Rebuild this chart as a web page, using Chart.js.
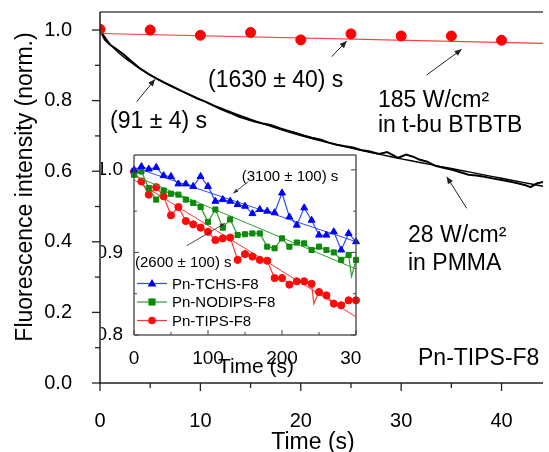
<!DOCTYPE html>
<html><head><meta charset="utf-8">
<script src="https://cdn.jsdelivr.net/npm/chart.js@4"></script>
<style>
html,body{margin:0;padding:0;background:#fff;}
#main{display:block;}
</style></head><body>
<canvas id="main" width="549" height="452"></canvas>
<script>
// ---------- main plot data ----------
const btbtbTime = [0, 5, 10, 15, 20, 25, 30, 35, 40];
const btbtbVals = [1.002, 1.000, 0.985, 0.993, 0.972, 0.989, 0.983, 0.983, 0.971];
const btbtbFitTime = [0, 44.2];
const btbtbFitVals = [0.990, 0.962];

const pmmaTime = [0,0.5,1.0,1.6,2.3,3.1,3.9,4.8,5.6,6.4,7.2,8.0,8.9,9.7,10.5,11.3,12.1,13.0,13.8,14.6,15.4,16.2,17.0,17.9,18.7,19.5,20.3,21.1,22.0,22.8,23.6,24.4,25.2,26.0,26.9,27.8,28.6,29.7,30.5,31.3,31.8,32.6,33.4,34.3,35.1,35.9,36.7,37.5,38.3,39.2,40.0,40.8,41.6,42.4,42.9,43.5,44.2];
const pmmaVals = [1.000,0.972,0.958,0.947,0.932,0.912,0.893,0.876,0.863,0.851,0.840,0.829,0.817,0.806,0.797,0.786,0.775,0.765,0.755,0.748,0.741,0.735,0.731,0.722,0.715,0.708,0.701,0.695,0.689,0.681,0.675,0.671,0.667,0.660,0.656,0.649,0.654,0.638,0.647,0.640,0.633,0.627,0.615,0.609,0.604,0.597,0.590,0.588,0.584,0.579,0.575,0.571,0.566,0.560,0.555,0.565,0.570];
const pmmaFitTime = [0,1,2,3,4,6,8,10,12,14,16,18,20,22,24,26,28,30,32,34,36,38,40,42,44.2];
const pmmaFitVals = [1.0,0.960,0.932,0.910,0.890,0.857,0.828,0.803,0.779,0.757,0.737,0.718,0.701,0.686,0.672,0.659,0.647,0.635,0.624,0.613,0.602,0.591,0.580,0.569,0.557];

const mainXTicks = [0, 10, 20, 30, 40];
const mainYTicks = [0.0, 0.2, 0.4, 0.6, 0.8, 1.0];

// ---------- inset data ----------
const tchsTime = [0,10,20,30,40,50,60,70,80,90,100,110,120,130,140,150,160,170,180,190,200,210,220,230,240,250,260,270,280,290,300];
const tchsVals = [1.000,1.004,1.001,1.003,0.993,0.992,0.983,0.983,0.980,0.992,0.980,0.962,0.964,0.962,0.958,0.956,0.947,0.952,0.950,0.948,0.972,0.943,0.933,0.954,0.939,0.921,0.921,0.925,0.903,0.923,0.913];
const nodipsTime = [0,10,20,30,40,50,60,70,80,90,100,110,120,130,140,150,160,170,180,190,200,210,220,230,240,250,260,270,280,290,294,300];
const nodipsVals = [0.994,0.998,0.978,0.964,0.975,0.971,0.970,0.964,0.960,0.955,0.937,0.952,0.930,0.940,0.921,0.922,0.923,0.923,0.907,0.905,0.917,0.907,0.912,0.911,0.903,0.907,0.903,0.900,0.891,0.897,0.871,0.891];
const tipsTime = [0,10,20,30,40,50,60,70,80,90,100,110,120,130,140,150,160,170,180,190,200,210,220,230,240,243,250,260,270,280,290,300];
const tipsVals = [0.998,0.986,0.970,0.979,0.968,0.945,0.955,0.938,0.934,0.930,0.925,0.915,0.917,0.918,0.891,0.898,0.895,0.891,0.890,0.869,0.869,0.861,0.865,0.865,0.862,0.838,0.852,0.848,0.838,0.836,0.842,0.842];
const fitTime = [0, 300];
const tchsFit = [1.003, 0.913];
const nodipsFit = [0.993, 0.880];
const tipsFit = [0.988, 0.822];

const insetXTicks = [0, 100, 200, 300];
const insetYTicks = [0.8, 0.9, 1.0];
const seriesNames = ['Pn-TCHS-F8', 'Pn-NODIPS-F8', 'Pn-TIPS-F8'];

const FONT = '"Liberation Sans", Arial, Helvetica, sans-serif';
const pts = (t, v) => t.map((x, i) => ({x, y: v[i]}));
const INSET_X = 101, INSET_Y = 150;

function seg(ctx, x1, y1, x2, y2) {
  ctx.beginPath(); ctx.moveTo(x1, y1); ctx.lineTo(x2, y2); ctx.stroke();
}
// axis-aligned line drawn as a filled rectangle
function hbar(ctx, x1, x2, y, w) { ctx.fillRect(Math.min(x1, x2), y - w / 2, Math.abs(x2 - x1), w); }
function vbar(ctx, x, y1, y2, w) { ctx.fillRect(x - w / 2, Math.min(y1, y2), w, Math.abs(y2 - y1)); }
function arrow(ctx, x1, y1, x2, y2, len, w) {
  seg(ctx, x1, y1, x2, y2);
  const a = Math.atan2(y2 - y1, x2 - x1);
  ctx.beginPath();
  ctx.moveTo(x2, y2);
  ctx.lineTo(x2 - len * Math.cos(a) + w * Math.sin(a), y2 - len * Math.sin(a) - w * Math.cos(a));
  ctx.lineTo(x2 - len * Math.cos(a) - w * Math.sin(a), y2 - len * Math.sin(a) + w * Math.cos(a));
  ctx.closePath(); ctx.fill();
}
function zeroPad(s) { s.paddingTop = 0; s.paddingBottom = 0; s.paddingLeft = 0; s.paddingRight = 0; }
function bounds(chart) {
  const x = chart.scales.x, y = chart.scales.y;
  return {x, y, left: x.getPixelForValue(x.min), right: x.getPixelForValue(x.max),
          top: y.getPixelForValue(y.max), bottom: y.getPixelForValue(y.min)};
}

// ---------- inset chart (own canvas, composited into the main canvas) ----------
const insetColors = [
  {mk: '#0000ff', ln: '#2f4dff', style: 'triangle', r: 4},
  {mk: '#0b8a0b', ln: '#2e9e2e', style: 'rect', r: 3.6},
  {mk: '#ff0a0a', ln: '#ff3535', style: 'circle', r: 3.6}
];
const markerRadius = (r) => (c) => {
  const p = c.raw; return (p && Number.isInteger(p.x / 10)) ? r : 0;
};

const insetDeco = {
  id: 'insetDeco',
  afterDraw(chart) {
    const ctx = chart.ctx;
    const b = bounds(chart);
    const ox = INSET_X, oy = INSET_Y;
    ctx.save();
    ctx.fillStyle = '#444';
    hbar(ctx, b.left, b.right, b.top, 1.3);
    hbar(ctx, b.left, b.right, b.bottom, 1.3);
    vbar(ctx, b.left, b.top, b.bottom, 1.3);
    vbar(ctx, b.right, b.top, b.bottom, 1.3);
    for (let i = 0; i * 50 <= 300; i++) {
      const px = b.x.getPixelForValue(i * 50);
      vbar(ctx, px, b.bottom, b.bottom - (i % 2 === 0 ? 5 : 3), 1);
    }
    for (let i = 0; i <= 4; i++) {
      const py = b.y.getPixelForValue(0.8 + i * 0.05);
      const len = i % 2 === 0 ? 5 : 3;
      hbar(ctx, b.left, b.left + len, py, 1);
      hbar(ctx, b.right - len, b.right, py, 1);
    }
    ctx.fillStyle = '#000';
    ctx.font = '21px ' + FONT; ctx.textAlign = 'center'; ctx.textBaseline = 'alphabetic';
    ctx.fillText('Time (s)', 256 - ox, 373 - oy);
    ctx.font = '15px ' + FONT; ctx.textAlign = 'left';
    ctx.fillText('(3100 \u00B1 100) s', 241.7 - ox, 181 - oy);
    ctx.fillText('(2600 \u00B1 100) s', 135 - ox, 267 - oy);
    ctx.strokeStyle = '#333'; ctx.fillStyle = '#333'; ctx.lineWidth = 0.9;
    arrow(ctx, 248.3 - ox, 181.7 - oy, 233.3 - ox, 193.3 - oy, 5, 2);
    arrow(ctx, 186.7 - ox, 245.7 - oy, 225 - ox, 223.3 - oy, 5, 2);
    const rows = [283.5, 302, 320.5];
    rows.forEach((ry, i) => {
      const c = insetColors[i];
      const yy = ry - oy;
      ctx.strokeStyle = c.ln; ctx.lineWidth = 1.2;
      seg(ctx, 137 - ox, yy, 167 - ox, yy);
      ctx.fillStyle = c.mk;
      const mx = 152 - ox;
      if (c.style === 'triangle') {
        ctx.beginPath(); ctx.moveTo(mx, yy - 4.5); ctx.lineTo(mx + 4.5, yy + 3); ctx.lineTo(mx - 4.5, yy + 3); ctx.closePath(); ctx.fill();
      } else if (c.style === 'rect') {
        ctx.fillRect(mx - 3.6, yy - 3.6, 7.2, 7.2);
      } else {
        ctx.beginPath(); ctx.arc(mx, yy, 3.8, 0, Math.PI * 2); ctx.fill();
      }
      ctx.fillStyle = '#000'; ctx.font = '15px ' + FONT; ctx.textBaseline = 'middle';
      ctx.fillText(seriesNames[i], 172 - ox, yy + 1);
    });
    ctx.restore();
  }
};

const insetSeries = [[tchsTime, tchsVals, tchsFit], [nodipsTime, nodipsVals, nodipsFit], [tipsTime, tipsVals, tipsFit]];
const insetDatasets = [];
insetSeries.forEach((s, i) => {
  const c = insetColors[i];
  insetDatasets.push({label: seriesNames[i], data: pts(s[0], s[1]), showLine: true, borderColor: c.ln, borderWidth: 1.2,
    pointStyle: c.style, pointRadius: markerRadius(c.r), pointBackgroundColor: c.mk, pointBorderColor: c.mk,
    pointBorderWidth: 1, clip: false});
  insetDatasets.push({label: seriesNames[i] + ' fit', data: pts(fitTime, s[2]), showLine: true, borderColor: c.ln,
    borderWidth: 1, pointRadius: 0, clip: false});
});

const insetCanvas = document.createElement('canvas');
insetCanvas.width = 260; insetCanvas.height = 232;
const insetChart = new Chart(insetCanvas, {
  type: 'scatter',
  data: {datasets: insetDatasets},
  options: {
    responsive: false, animation: false, devicePixelRatio: 1,
    layout: {padding: {top: 5, right: 5, left: 0, bottom: 0}},
    plugins: {legend: {display: false}, tooltip: {enabled: false}},
    scales: {
      x: {type: 'linear', min: 0, max: 300,
          grid: {display: false}, border: {display: false},
          afterFit: s => { s.height = 47; zeroPad(s); },
          afterBuildTicks: s => { s.ticks = insetXTicks.map(v => ({value: v})); },
          ticks: {padding: 4, color: '#000', font: {family: FONT, size: 19}, maxRotation: 0,
                  callback: v => String(v)}},
      y: {type: 'linear', min: 0.8, max: 1.018,
          grid: {display: false}, border: {display: false},
          afterFit: s => { s.width = 33; zeroPad(s); },
          afterBuildTicks: s => { s.ticks = insetYTicks.map(v => ({value: v})); },
          ticks: {padding: 3, color: '#000', font: {family: FONT, size: 19},
                  callback: v => Number(v).toFixed(1)}}
    }
  },
  plugins: [insetDeco]
});
insetChart.update('none');

// ---------- main chart ----------
const mainDeco = {
  id: 'mainDeco',
  afterDraw(chart) {
    const ctx = chart.ctx;
    const b = bounds(chart);
    ctx.save();
    ctx.drawImage(insetCanvas, INSET_X, INSET_Y);
    // frame and ticks (filled rectangles)
    ctx.fillStyle = '#222';
    vbar(ctx, b.left, b.top, b.bottom + 0.75, 1.5);
    hbar(ctx, b.left - 0.75, b.right, b.bottom, 1.5);
    hbar(ctx, b.left, b.right, b.top, 1.2);
    for (let i = 0; i * 5 <= b.x.max; i++) {
      const px = b.x.getPixelForValue(i * 5);
      vbar(ctx, px, b.bottom, b.bottom + (i % 2 === 0 ? 8 : 5), 1.3);
    }
    for (let i = 0; i <= 10; i++) {
      const py = b.y.getPixelForValue(i / 10);
      hbar(ctx, b.left - (i % 2 === 0 ? 8 : 5), b.left, py, 1.3);
    }
    // titles and annotations
    ctx.fillStyle = '#000';
    ctx.font = '23px ' + FONT;
    ctx.textAlign = 'center'; ctx.textBaseline = 'alphabetic';
    ctx.fillText('Time (s)', 313, 449);
    ctx.save();
    ctx.translate(32, 187); ctx.rotate(-Math.PI / 2);
    ctx.fillText('Fluorescence intensity (norm.)', 0, 0);
    ctx.restore();
    ctx.textAlign = 'left';
    ctx.fillText('(1630 \u00B1 40) s', 208, 87);
    ctx.fillText('(91 \u00B1 4) s', 110, 128);
    ctx.fillText('185 W/cm\u00B2', 378, 107);
    ctx.fillText('in t-bu BTBTB', 378, 132);
    ctx.fillText('28 W/cm\u00B2', 408, 242);
    ctx.fillText('in PMMA', 408, 270);
    ctx.fillText('Pn-TIPS-F8', 418, 365);
    ctx.strokeStyle = '#222'; ctx.fillStyle = '#222'; ctx.lineWidth = 1;
    arrow(ctx, 331.7, 56.7, 346.7, 41, 7, 3);
    arrow(ctx, 426.7, 75, 461.7, 49.3, 7, 3);
    arrow(ctx, 136.7, 101.7, 155, 79.3, 7, 3);
    arrow(ctx, 466.7, 208.3, 446.7, 176.7, 7, 3);
    ctx.restore();
  }
};

new Chart(document.getElementById('main'), {
  type: 'scatter',
  data: {
    datasets: [
      {data: pts(btbtbTime, btbtbVals), showLine: false, pointRadius: 5,
       pointBackgroundColor: '#ff0000', pointBorderColor: '#ff0000', pointBorderWidth: 1, clip: 0},
      {data: pts(btbtbFitTime, btbtbFitVals), showLine: true, borderColor: '#ff3b3b', borderWidth: 1.1,
       pointRadius: 0},
      {data: pts(pmmaFitTime, pmmaFitVals), showLine: true, borderColor: '#000', borderWidth: 1.4,
       pointRadius: 0, tension: 0.3},
      {data: pts(pmmaTime, pmmaVals), showLine: true, borderColor: '#000', borderWidth: 2,
       pointRadius: 0}
    ]
  },
  options: {
    responsive: false, animation: false, devicePixelRatio: 1,
    layout: {padding: {top: 12, right: 0, left: 0, bottom: 0}},
    plugins: {legend: {display: false}, tooltip: {enabled: false}},
    scales: {
      x: {type: 'linear', min: 0, max: 44.13,
          grid: {display: false}, border: {display: false},
          afterFit: s => { s.height = 69; zeroPad(s); },
          afterBuildTicks: s => { s.ticks = mainXTicks.map(v => ({value: v})); },
          ticks: {padding: 18, color: '#000', font: {family: FONT, size: 20}, maxRotation: 0,
                  callback: v => String(v)}},
      y: {type: 'linear', min: 0, max: 1.051,
          grid: {display: false}, border: {display: false},
          afterFit: s => { s.width = 100; zeroPad(s); },
          afterBuildTicks: s => { s.ticks = mainYTicks.map(v => ({value: v})); },
          ticks: {padding: 20, color: '#000', font: {family: FONT, size: 20},
                  callback: v => Number(v).toFixed(1)}}
    }
  },
  plugins: [mainDeco]
});
</script>
</body></html>
